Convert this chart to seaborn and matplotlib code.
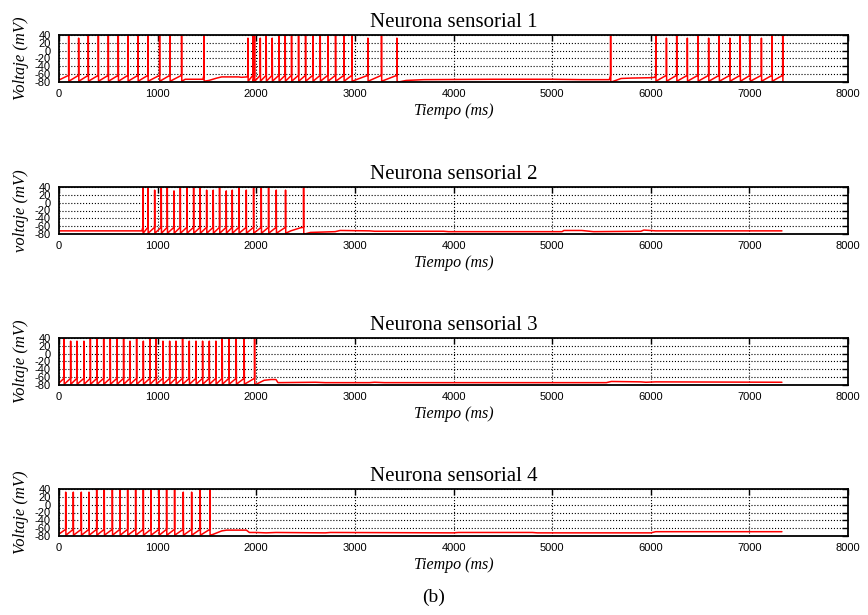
import numpy as np
import pandas as pd
import matplotlib
matplotlib.use("Agg")
import matplotlib.pyplot as plt
import seaborn as sns

sns.set_theme(style="white")
plt.rcParams["font.family"] = ["Liberation Sans", "DejaVu Sans"]
plt.rcParams["axes.unicode_minus"] = False
plt.rcParams["text.color"] = "black"
plt.rcParams["axes.labelcolor"] = "black"

titles = ["Neurona sensorial 1", "Neurona sensorial 2", "Neurona sensorial 3", "Neurona sensorial 4"]
ylabels = ["Voltaje (mV)", "voltaje (mV)", "Voltaje (mV)", "Voltaje (mV)"]
xlabel = "Tiempo (ms)"
xticks = [0, 1000, 2000, 3000, 4000, 5000, 6000, 7000, 8000]
yticks = [-80, -60, -40, -20, 0, 20, 40]

# ---- Neuron 1 ----
spikes_1 = [98, 199, 297, 399, 500, 601, 699, 801, 902, 1020, 1125, 1243, 1470,
            1916, 1966, 1983, 2041, 2101, 2162, 2230, 2294, 2358, 2429, 2500, 2574,
            2649, 2726, 2804, 2889, 2970, 3132, 3270, 3426,
            5593, 6051, 6159, 6263, 6371, 6479, 6587, 6694, 6802, 6907, 7008, 7122, 7230, 7338]
peaks_1 = [40, 32, 40, 40, 40, 40, 40, 40, 40, 40, 40, 40, 40,
           32, 40, 40, 32, 40, 32, 40, 40, 40, 40, 40, 40,
           40, 40, 40, 40, 40, 32, 40, 32,
           40, 40, 32, 40, 32, 40, 32, 40, 32, 40, 40, 32, 40, 40]
rest_t_1 = [0, 1280, 1460, 1520, 1600, 1650, 1820, 1850, 1905,
            3445, 3520, 3700, 4400, 5000, 5300, 5580,
            5600, 5700, 5800, 6000, 6040]
rest_v_1 = [-75, -73, -73, -76, -70, -67, -67, -68, -67,
            -80, -76, -74, -73, -73, -74, -74,
            -80, -71, -70, -69, -68]

# ---- Neuron 2 ----
spikes_2 = [851, 902, 970, 1037, 1098, 1166, 1230, 1297, 1365, 1432, 1497, 1564,
            1628, 1696, 1757, 1824, 1899, 1973, 2051, 2125, 2203, 2297, 2480]
peaks_2 = [40, 40, 32, 40, 40, 30, 40, 40, 40, 40, 32, 32,
           40, 30, 32, 40, 32, 40, 40, 40, 32, 32, 40]
rest_t_2 = [0, 840, 2350, 2450, 2490, 2550, 2800, 2850, 3150, 3200, 3900, 3950,
            5100, 5120, 5300, 5420, 5900, 5930, 6050, 7330]
rest_v_2 = [-72, -72, -72, -64, -80, -76, -74, -71, -72, -73, -73, -74,
            -74, -71, -71, -74, -73, -70, -72, -72]

# ---- Neuron 3 ----
spikes_3 = [51, 118, 182, 253, 318, 385, 453, 520, 588, 655, 720, 787, 855, 922,
            986, 1054, 1122, 1186, 1253, 1321, 1389, 1456, 1524, 1591, 1655, 1723,
            1797, 1878, 1983]
peaks_3 = [40, 32, 32, 32, 40, 40, 40, 40, 40, 40, 32, 40, 32, 40,
           40, 32, 32, 32, 40, 32, 32, 32, 32, 32, 40, 40,
           40, 40, 40]
rest_t_3 = [0, 2000, 2080, 2150, 2200, 2220, 2600, 2700, 3150, 3200, 3300,
            5550, 5600, 5900, 5950, 6050, 7330]
rest_v_3 = [-75, -78, -68, -66, -66, -74, -73, -74, -74, -73, -74,
            -74, -71, -72, -73, -72, -73]

# ---- Neuron 4 ----
spikes_4 = [68, 145, 226, 304, 382, 459, 541, 618, 696, 777, 855, 932, 1014,
            1091, 1172, 1260, 1345, 1432, 1530]
peaks_4 = [32, 32, 32, 32, 40, 40, 40, 40, 40, 40, 40, 40, 40,
           40, 40, 32, 32, 40, 40]
rest_t_4 = [0, 1560, 1650, 1700, 1900, 1930, 2000, 2100, 2200, 2700, 2750,
            4000, 4050, 4800, 4850, 6000, 6050, 7330]
rest_v_4 = [-75, -76, -67, -65, -65, -71, -71, -72, -71, -72, -71,
            -72, -71, -71, -72, -72, -69, -69]

THRESH = -63
RESET = -78


def build_trace(spk, pk, rt, rv):
    pts = list(zip(rt, rv))
    for t, p in zip(spk, pk):
        pts += [(t - 1, THRESH), (t, p), (t + 2, RESET)]
    pts.sort(key=lambda a: a[0])
    return pd.DataFrame(pts, columns=["t", "v"])


neurons = [
    (spikes_1, peaks_1, rest_t_1, rest_v_1),
    (spikes_2, peaks_2, rest_t_2, rest_v_2),
    (spikes_3, peaks_3, rest_t_3, rest_v_3),
    (spikes_4, peaks_4, rest_t_4, rest_v_4),
]

fig = plt.figure(figsize=(8.68, 6.15), dpi=100)
left, width, height = 59 / 868, 789 / 868, 47 / 615
bottoms = [1 - 82 / 615, 1 - 234 / 615, 1 - 385 / 615, 1 - 536 / 615]

serif = ["Liberation Serif", "DejaVu Serif"]

for i, (spk, pk, rt, rv) in enumerate(neurons):
    ax = fig.add_axes([left, bottoms[i], width, height])
    df = build_trace(spk, pk, rt, rv)
    sns.lineplot(data=df, x="t", y="v", ax=ax, color="#ff0000", linewidth=1.1,
                 estimator=None, sort=False)
    ax.set_xlim(0, 8000)
    ax.set_ylim(-80, 40)
    ax.set_xticks(xticks)
    ax.set_yticks(yticks)
    ax.grid(True, linestyle=":", color="black", linewidth=0.8)
    ax.tick_params(direction="in", top=True, right=True, length=4, width=1,
                   labelsize=8, colors="black", pad=5)
    ax.tick_params(axis="y", pad=6)
    for s in ax.spines.values():
        s.set_color("black")
        s.set_linewidth(1.3)
    ax.set_title(titles[i], family=serif, fontsize=15, pad=6, color="black")
    ax.set_xlabel(xlabel, family=serif, style="italic", fontsize=11.5, labelpad=3)
    ax.set_ylabel(ylabels[i], family=serif, style="italic", fontsize=12, labelpad=4)

fig.text(0.5, 1 - 597 / 615, "(b)", family=serif, fontsize=14, ha="center", va="center")

fig.savefig("out.png", dpi=100)
